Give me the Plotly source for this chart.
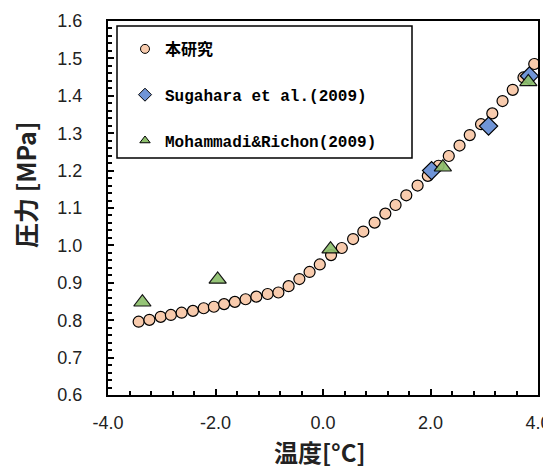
import plotly.graph_objects as go

# 本研究 (this study)
temp_this = [-3.43, -3.23, -3.02, -2.83, -2.63, -2.42, -2.22, -2.03, -1.84, -1.64,
             -1.44, -1.24, -1.03, -0.83, -0.64, -0.44, -0.25, -0.06, 0.15, 0.35,
             0.56, 0.75, 0.96, 1.16, 1.35, 1.55, 1.76, 1.95, 2.15, 2.34,
             2.54, 2.73, 2.94, 3.15, 3.34, 3.53, 3.73, 3.93]
pres_this = [0.796, 0.801, 0.809, 0.814, 0.820, 0.825, 0.832, 0.836, 0.843, 0.849,
             0.856, 0.863, 0.870, 0.874, 0.891, 0.910, 0.929, 0.949, 0.974, 0.993,
             1.017, 1.037, 1.061, 1.085, 1.108, 1.134, 1.160, 1.186, 1.213, 1.239,
             1.267, 1.295, 1.324, 1.353, 1.386, 1.416, 1.449, 1.485]

# Sugahara et al. (2009)
temp_sug = [2.02, 3.08, 3.84]
pres_sug = [1.200, 1.319, 1.453]

# Mohammadi & Richon (2009)
temp_moh = [-3.36, -1.96, 0.14, 2.23, 3.82]
pres_moh = [0.848, 0.909, 0.990, 1.209, 1.437]

x_ticks = [-4.0, -2.0, 0.0, 2.0, 4.0]
x_tick_text = ["-4.0", "-2.0", "0.0", "2.0", "4.0"]
y_ticks = [0.6, 0.7, 0.8, 0.9, 1.0, 1.1, 1.2, 1.3, 1.4, 1.5, 1.6]
y_tick_text = ["0.6", "0.7", "0.8", "0.9", "1.0", "1.1", "1.2", "1.3", "1.4", "1.5", "1.6"]

series_names = ["本研究", "Sugahara et al.(2009)", "Mohammadi&Richon(2009)"]
colors = ["#F8CBAD", "#6F94D6", "#8DBF6C"]
symbols = ["circle", "diamond", "triangle-up"]

fig = go.Figure()
data_sets = [(temp_this, pres_this, 11), (temp_sug, pres_sug, 14), (temp_moh, pres_moh, 15)]
for i, (xs, ys, sz) in enumerate(data_sets):
    fig.add_trace(go.Scatter(
        x=xs, y=ys, mode="markers", name=series_names[i], showlegend=False,
        marker=dict(symbol=symbols[i], size=sz, color=colors[i],
                    opacity=0.92 if i == 2 else 1.0,
                    line=dict(color="black", width=1.2))))
# legend entries (small markers, as in the reference legend)
for i in range(3):
    fig.add_trace(go.Scatter(
        x=[None], y=[None], mode="markers", name=series_names[i],
        legendgroup=str(i), showlegend=True,
        marker=dict(symbol=symbols[i], size=9 if i != 1 else 10, color=colors[i],
                    line=dict(color="black", width=1))))

axis_common = dict(
    showline=True, linecolor="black", linewidth=2, mirror=True,
    ticks="inside", ticklen=6, tickwidth=2, tickcolor="black",
    showgrid=False, zeroline=False, automargin=False,
    tickfont=dict(family="Liberation Sans, Arial", size=18, color="#222"),
)

fig.update_xaxes(
    range=[-4.0, 4.0], tickvals=x_ticks, ticktext=x_tick_text,
    minor=dict(ticks="inside", dtick=0.4, ticklen=4, tickwidth=1.5, tickcolor="black"),
    ticklabelstandoff=10,
    **axis_common)
fig.update_yaxes(
    range=[0.6, 1.6], tickvals=y_ticks, ticktext=y_tick_text,
    minor=dict(ticks="inside", dtick=0.02, ticklen=4, tickwidth=1.5, tickcolor="black"),
    ticklabelstandoff=20,
    **axis_common)

# plot area in page pixels: left 108, right 538, top 21, bottom 395 (page has 8px body offset)
fig.add_shape(type="rect", xref="paper", yref="paper",
              x0=(117 - 108) / 430, x1=(412 - 108) / 430,
              y0=(395 - 158) / 374, y1=(395 - 26) / 374,
              line=dict(color="black", width=1.5), fillcolor="white", layer="below")

fig.add_annotation(text="<b>圧力 [MPa]</b>", xref="paper", yref="paper",
                   x=(25 - 108) / 430, y=(395 - 185) / 374, textangle=-90, showarrow=False,
                   xanchor="center", yanchor="middle",
                   font=dict(family="Noto Sans CJK JP", size=25, color="#222"))
fig.add_annotation(text="<b>温度[°C]</b>", xref="paper", yref="paper",
                   x=(320 - 108) / 430, y=(395 - 451) / 374, showarrow=False,
                   xanchor="center", yanchor="middle",
                   font=dict(family="Noto Sans CJK JP", size=24, color="#222"))

fig.update_layout(
    width=543, height=462,
    margin=dict(l=100, r=13, t=13, b=75),
    paper_bgcolor="white", plot_bgcolor="white",
    showlegend=True,
    legend=dict(x=(125 - 108) / 430, y=(395 - 32) / 374, xanchor="left", yanchor="top",
                bgcolor="rgba(0,0,0,0)", borderwidth=0,
                tracegroupgap=22,
                font=dict(family="Liberation Mono, Noto Sans CJK JP", size=16,
                          color="black", weight="bold")),
)

fig.write_html("out.html")
